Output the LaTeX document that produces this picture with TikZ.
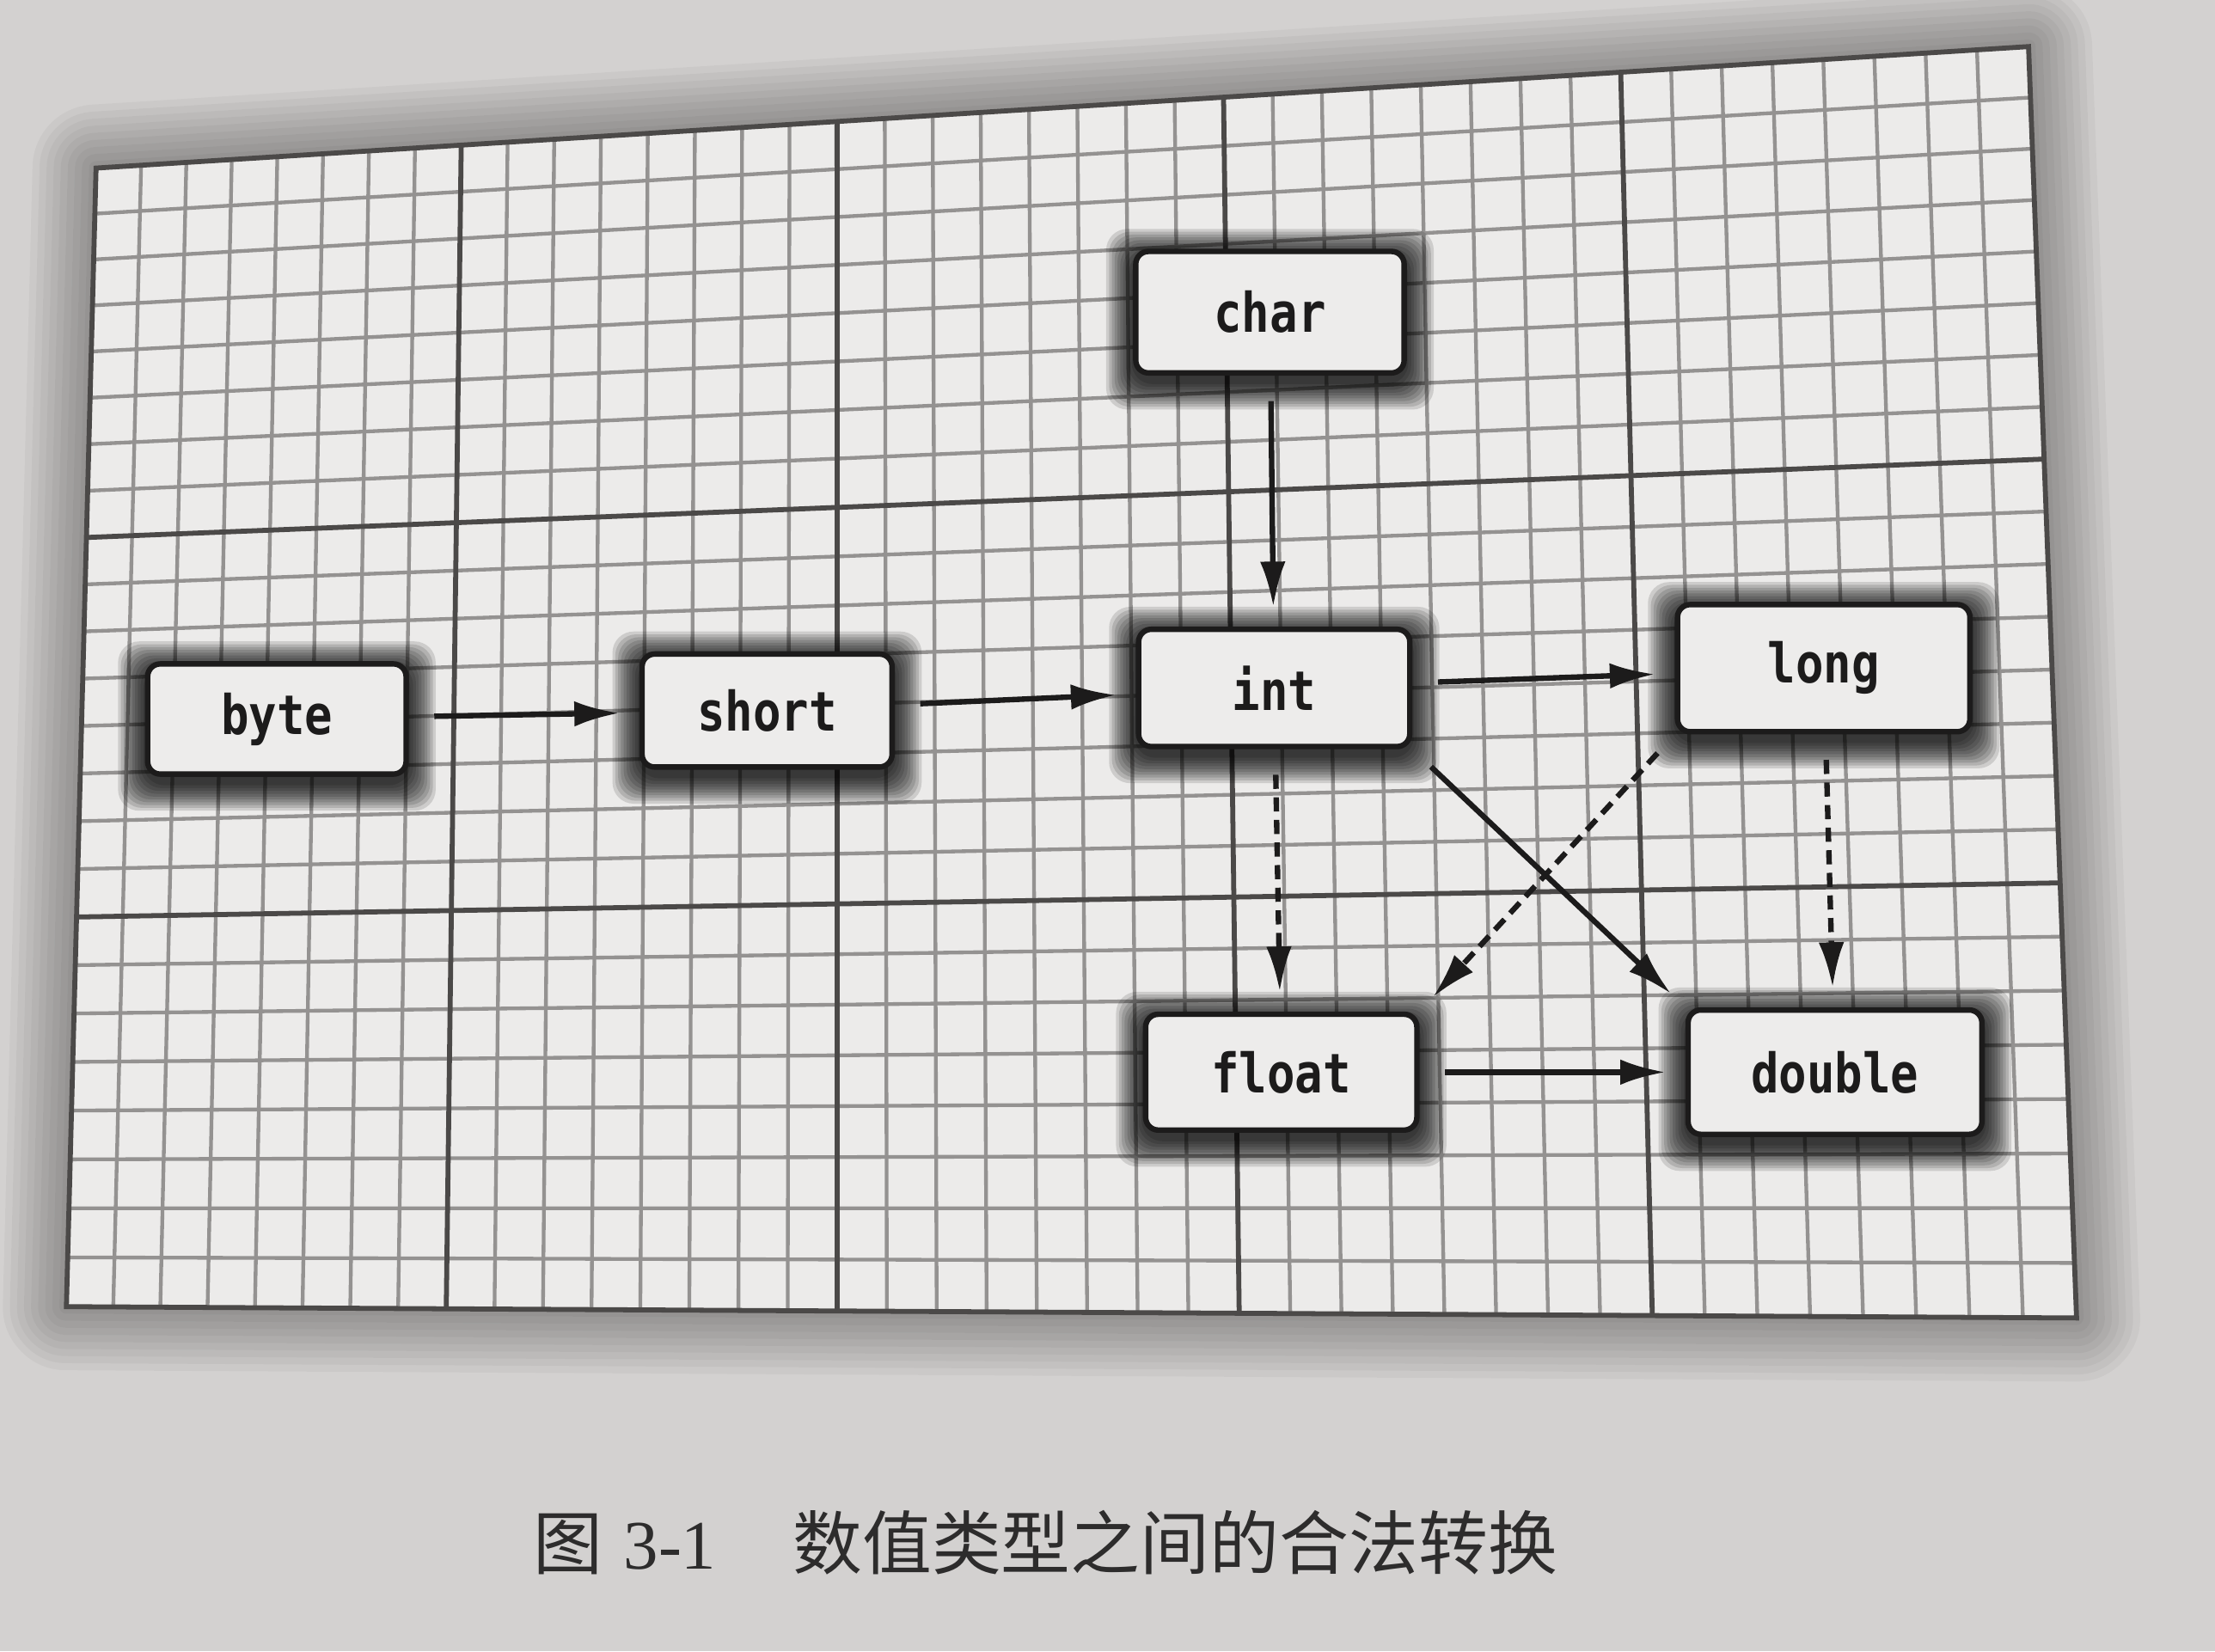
\documentclass[tikz,border=0pt]{standalone}
\usepackage{fontspec}
\newfontfamily\typefont[FakeStretch=0.85]{DejaVu Sans Mono}
\newfontfamily\cjkfont{Noto Sans CJK SC}
\newfontfamily\capnum{Liberation Serif}
\usetikzlibrary{arrows.meta, calc, backgrounds}
\pgfdeclarelayer{glow}
\pgfsetlayers{background,glow,main}

\definecolor{paper}{RGB}{211,209,208}
\definecolor{sheet}{RGB}{236,235,234}
\definecolor{minorgrid}{RGB}{148,146,145}
\definecolor{majorgrid}{RGB}{75,73,72}
\definecolor{ink}{RGB}{28,27,27}
\definecolor{boxfill}{RGB}{237,236,235}
\definecolor{capink}{RGB}{45,44,44}

\tikzset{
  typebox/.style={draw=ink, line width=1.1pt, fill=boxfill, rounded corners=0.9mm,
    minimum width=19mm, minimum height=8.4mm, text=ink,
    font={\typefont\bfseries\fontsize{11}{13}\selectfont}},
  conv/.style={-{Latex[length=3.2mm,width=1.8mm]}, line width=1.1pt, draw=ink,
    shorten <=1.8mm, shorten >=1.4mm},
  maybe conv/.style={conv, dash pattern=on 1mm off 0.6mm},
  minorline/.style={draw=minorgrid, line width=0.75pt},
  majorline/.style={draw=majorgrid, line width=1pt},
  caption/.style={text=capink, font={\capnum\fontsize{14}{16}\selectfont}},
}

% dark fuzzy halo behind a box
\newcommand\boxglow[1]{%
  \foreach \d in {1,3,...,19}
    {\fill[black, opacity=0.13, rounded corners=1.5mm]
      ([shift={(-\d,-\d+5)}]#1.north west) rectangle ([shift={(\d,\d+5)}]#1.south east);}}

\begin{document}
\begin{tikzpicture}[x=0.1mm, y=-0.1mm]
  \useasboundingbox (0,0) rectangle (1568,1169);

  % corners of the grid sheet
  \coordinate (gTL) at (68,119);
  \coordinate (gTR) at (1436,33);
  \coordinate (gBL) at (47,925);
  \coordinate (gBR) at (1470,933);

  \begin{pgfonlayer}{background}
    \fill[paper] (0,0) rectangle (1568,1169);
    % drop shadow of the sheet
    \begin{scope}[shift={(28,24)}]
      \fill[black, opacity=0.2] (gTL) -- (gTR) -- (gBR) -- (gBL) -- cycle;
      \foreach \w in {1,...,9}
        {\draw[black, opacity=0.035, line width=\w mm, line join=round]
          (gTL) -- (gTR) -- (gBR) -- (gBL) -- cycle;}
    \end{scope}
    \fill[sheet] (gTL) -- (gTR) -- (gBR) -- (gBL) -- cycle;
    % columns widen slightly to the right, rows to the bottom
    \foreach \i [evaluate=\i as \f using {\i/40-0.069*\i/40*(1-\i/40)}] in {1,...,39}
      {\draw[minorline] ($(gTL)!\f!(gTR)$) -- ($(gBL)!\f!(gBR)$);}
    \foreach \j [evaluate=\j as \f using {\j/24-0.04*\j/24*(1-\j/24)}] in {1,...,23}
      {\draw[minorline] ($(gTL)!\f!(gBL)$) -- ($(gTR)!\f!(gBR)$);}
    \foreach \i [evaluate=\i as \f using {\i/40-0.069*\i/40*(1-\i/40)}] in {8,16,24,32}
      {\draw[majorline] ($(gTL)!\f!(gTR)$) -- ($(gBL)!\f!(gBR)$);}
    \foreach \j [evaluate=\j as \f using {\j/24-0.04*\j/24*(1-\j/24)}] in {8,16}
      {\draw[majorline] ($(gTL)!\f!(gBL)$) -- ($(gTR)!\f!(gBR)$);}
    \draw[majorline] (gTL) -- (gTR) -- (gBR) -- (gBL) -- cycle;
  \end{pgfonlayer}

  \node[typebox, minimum width=19mm, minimum height=8.6mm] (char) at (899,221) {char};
  \node[typebox, minimum width=18.3mm, minimum height=7.8mm] (byte) at (196,509) {byte};
  \node[typebox, minimum width=17.7mm, minimum height=8mm] (short) at (543,503) {short};
  \node[typebox, minimum width=19.2mm, minimum height=8.3mm] (int) at (902,487) {int};
  \node[typebox, minimum width=20.7mm, minimum height=9mm] (long) at (1291,473) {long};
  \node[typebox, minimum width=19.2mm, minimum height=8.2mm] (float) at (907,759) {float};
  \node[typebox, minimum width=20.8mm, minimum height=8.8mm] (double) at (1299,759) {double};

  \begin{pgfonlayer}{glow}
    \foreach \n in {char,byte,short,int,long,float,double}
      {\boxglow{\n}}
  \end{pgfonlayer}

  \draw[conv] (char) -- (int);
  \draw[conv] (byte) -- (short);
  \draw[conv] (short) -- (int);
  \draw[conv] (int) -- (long);
  \draw[conv] (float) -- (double);
  \draw[conv] (int.south east) -- (double.north west);
  \draw[maybe conv] (int) -- (float);
  \draw[maybe conv] (long.south west) -- (float.north east);
  \draw[maybe conv] (long) -- (double);

  \node[caption] (cap) at (740,1092)
    {{\cjkfont 图}\hspace{0.3em}3-1\hspace{1.1em}{\cjkfont 数值类型之间的合法转换}};
\end{tikzpicture}
\end{document}
